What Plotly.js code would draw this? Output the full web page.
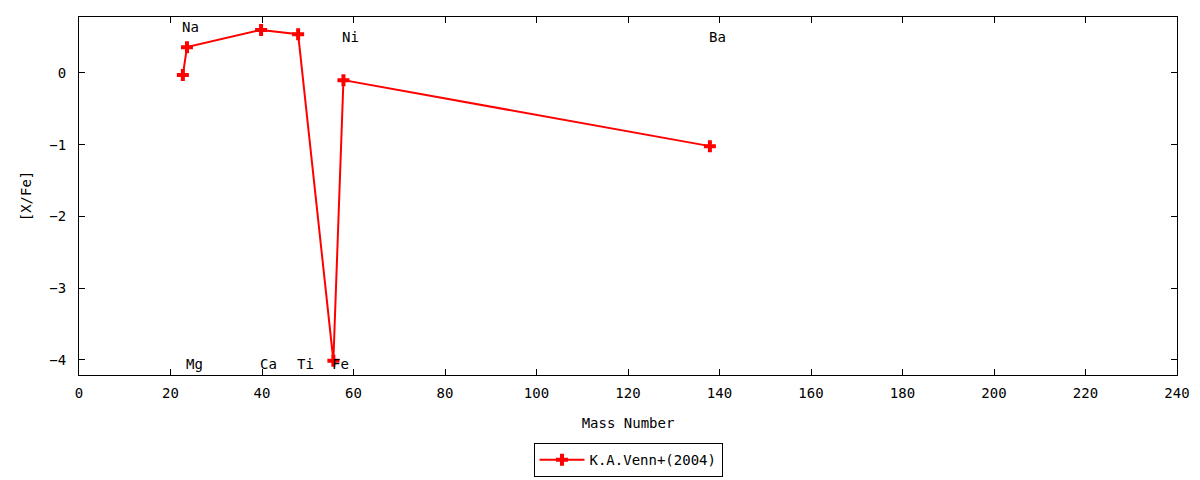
<!DOCTYPE html>
<html>
<head>
<meta charset="utf-8">
<script src="https://cdn.plot.ly/plotly-3.0.1.min.js"></script>
<style>html,body{margin:0;padding:0;background:#fff;}#chart{width:1200px;height:480px;}</style>
</head>
<body>
<div id="chart"></div>
<script>
// Data
const elements = ['Na', 'Mg', 'Ca', 'Ti', 'Fe', 'Ni', 'Ba'];
const massNumber = [22.7, 23.6, 39.8, 47.9, 55.6, 57.8, 137.9];
const xFe = [-0.03, 0.36, 0.60, 0.54, -4.01, -0.10, -1.02];
const labelY = [0.64, -4.05, -4.05, -4.05, -4.05, 0.50, 0.50];
const seriesName = 'K.A.Venn+(2004)';
const xTitle = 'Mass Number';
const yTitle = '[X/Fe]';

const FONT = {family: 'DejaVu Sans Mono, monospace', size: 14, color: '#000'};

const trace = {
  x: massNumber,
  y: xFe,
  type: 'scatter',
  mode: 'lines+markers',
  name: seriesName,
  line: {color: '#ff0000', width: 2},
  marker: {symbol: 'cross', size: 10, color: '#ff0000'},
  hoverinfo: 'x+y'
};

const annotations = elements.map((el, i) => ({
  x: massNumber[i],
  y: labelY[i],
  xref: 'x', yref: 'y',
  text: el,
  showarrow: false,
  xanchor: 'left',
  yanchor: 'middle',
  xshift: -3,
  font: FONT
}));

const axisCommon = {
  showgrid: false,
  zeroline: false,
  showline: true,
  linecolor: '#000',
  linewidth: 1,
  mirror: 'allticks',
  ticks: 'inside',
  ticklen: 6,
  tickcolor: '#000',
  tickfont: FONT
};

const layout = {
  width: 1200,
  height: 480,
  paper_bgcolor: '#fff',
  plot_bgcolor: '#fff',
  margin: {l: 79, r: 23, t: 17, b: 105},
  font: FONT,
  showlegend: true,
  xaxis: Object.assign({}, axisCommon, {
    range: [0, 240],
    dtick: 20,
    tick0: 0,
    ticklabelstandoff: 5,
    title: {text: xTitle, font: FONT, standoff: 18}
  }),
  yaxis: Object.assign({}, axisCommon, {
    range: [-4.21, 0.78],
    dtick: 1,
    tick0: 0,
    ticklabelstandoff: 9,
    title: {text: yTitle, font: FONT, standoff: 14}
  }),
  legend: {
    orientation: 'h',
    x: 0.5,
    xanchor: 'center',
    xref: 'paper',
    y: 0.006,
    yref: 'container',
    yanchor: 'bottom',
    bordercolor: '#000',
    borderwidth: 1,
    bgcolor: '#fff',
    font: FONT,
    itemwidth: 45
  },
  annotations: annotations
};

Plotly.newPlot('chart', [trace], layout, {displayModeBar: false, staticPlot: true});
</script>
</body>
</html>
